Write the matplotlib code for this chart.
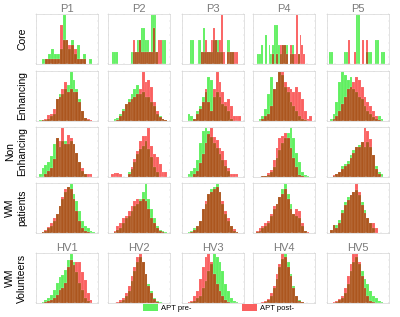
import numpy as np
import matplotlib
matplotlib.use("Agg")
import matplotlib.pyplot as plt
from matplotlib.patches import Patch

plt.rcParams["font.family"] = ["Liberation Sans", "DejaVu Sans"]

# ── data: bin heights (arbitrary units), one list per panel ────────────
row_labels = ["Core", "Enhancing", "Non\nEnhancing", "WM\npatients", "WM\nVolunteers"]
top_titles = ["P1", "P2", "P3", "P4", "P5"]
hv_titles = ["HV1", "HV2", "HV3", "HV4", "HV5"]

core_pre = [
    [0, 1, 1, 2, 3, 2, 2, 3, 10, 5, 3, 5, 2, 4, 1, 2, 0, 1, 0],
    [0, 1, 1, 1, 0, 0, 0, 0, 0, 0, 0, 1, 1, 1, 2, 2, 3, 3, 2, 2, 1, 4, 4, 4, 1, 0, 0, 2, 2, 0],
    [0, 0, 0, 2, 2, 0, 0, 2, 2, 1, 3, 1, 1, 1, 1, 2, 2, 2, 1, 1, 0, 0, 2, 2, 1, 1, 0, 0, 0, 0],
    [0, 1, 1, 2, 0, 3, 0, 2, 1, 2, 4, 4, 2, 1, 2, 2, 2, 0, 1, 2, 0, 0, 1, 0, 0, 0, 0, 0, 0, 0],
    [1, 1, 0, 0, 0, 0, 0, 0, 1, 1, 0, 0, 0, 0, 4, 4, 0, 0, 0, 1, 1, 1, 0, 0, 2, 2, 0, 1, 1, 0],
]
core_post = [
    [0, 0, 1, 1, 1, 1, 1, 8, 5, 5, 4, 4, 3, 1, 1, 1, 0, 0, 0],
    [0, 0, 0, 0, 0, 0, 0, 0, 0, 0, 0, 0, 2, 1, 1, 2, 1, 1, 1, 1, 1, 1, 3, 1, 1, 2, 2, 0, 0, 0],
    [0, 0, 0, 0, 0, 0, 0, 0, 0, 1, 1, 2, 1, 1, 2, 3, 2, 1, 2, 4, 1, 0, 1, 1, 1, 1, 1, 1, 0, 0],
    [0, 0, 0, 0, 0, 0, 0, 0, 0, 1, 0, 1, 0, 2, 2, 2, 1, 0, 2, 1, 1, 5, 1, 3, 2, 1, 0, 0, 0, 0],
    [0, 0, 0, 0, 0, 0, 0, 0, 0, 0, 2, 0, 0, 1, 0, 0, 0, 2, 0, 2, 0, 0, 0, 0, 0, 0, 0, 0, 0, 0],
]

enh_pre = [
    [0.3, 0.3, 0.3, 0.5, 1.0, 1.5, 4.5, 5.5, 5.5, 6.5, 7.5, 10, 8.5, 6.5, 4.5, 2, 0.7, 0.3, 0, 0],
    [0, 0.5, 0.7, 1.5, 2.5, 3.5, 4.5, 5.5, 6.5, 7.5, 5.5, 6, 5, 5, 4, 3, 1.5, 1, 0.5, 0.3],
    [0, 1.5, 1, 0.5, 2, 3, 5, 6, 9, 8.5, 5, 6, 5, 3.5, 3, 2, 0.5, 0, 0, 0],
    [0, 0.5, 1, 2.5, 5.5, 9, 6.5, 8, 10, 9.5, 7, 6, 4, 3, 2, 1, 0.5, 0.3, 0, 0],
    [0.5, 1.5, 4, 8, 10, 9.5, 8.5, 9, 6.5, 6, 5, 4.5, 3, 2, 1.5, 0.8, 0.5, 1, 0.5, 0],
]
enh_post = [
    [0, 0.3, 0.5, 1.2, 1.5, 2.5, 4.5, 5, 6.5, 8, 6, 6.5, 6, 6, 4, 2, 0.7, 0.5, 0.3, 0],
    [0, 0, 0.3, 1, 2, 3.5, 4, 4.5, 5, 5.5, 6.5, 10, 8, 8.5, 7, 4, 2, 0.8, 0.5, 0.3],
    [0, 0, 0, 0.5, 1.5, 2.5, 4, 6.5, 4, 2, 6.5, 10, 8, 6, 4, 4.5, 3, 1, 1, 1],
    [0, 0, 0.5, 1, 1.5, 3, 6.5, 8, 10, 10, 8, 7, 6.5, 6, 7, 6, 4.5, 2, 0.5, 1],
    [0, 0.5, 1, 2, 3.5, 5, 6.5, 7, 8, 9, 8.5, 7, 5, 4, 3, 2, 1, 0.3, 0, 0],
]

nenh_pre = [
    [0.5, 1.5, 2, 2.5, 3.5, 5.5, 6.5, 5, 6, 6, 5.5, 6, 5.5, 4, 2.5, 1, 0.5, 0, 0, 0],
    [0, 0, 0, 0, 0, 0, 1, 1.5, 3, 4.5, 5.5, 6, 7, 5.5, 4, 2, 1, 0, 0, 0],
    [0, 0.5, 1, 1.5, 3, 6, 8, 8.5, 8, 7, 6, 5, 4, 3, 2, 1, 0, 0, 0, 0],
    [0, 0, 0.2, 0.3, 0.5, 1, 2, 4, 5.5, 7, 8, 9, 10, 8, 5, 3, 1, 0.5, 0.2, 0],
    [0, 0.2, 0.5, 1, 2, 2.5, 3, 4, 5, 5.5, 6, 6.5, 5.5, 6.5, 5.5, 4, 2, 1, 0.5, 0],
]
nenh_post = [
    [0, 0, 0.5, 1, 1.5, 3, 6.5, 6, 8, 5.5, 7, 6.5, 5.5, 4, 2.5, 1.5, 0.5, 0.5, 0.5, 0],
    [0.5, 0.8, 0.8, 0.5, 0, 0, 0.5, 2, 3.5, 5, 7, 8, 8, 9.5, 6, 4.5, 4, 2.5, 1, 1],
    [0, 0, 0, 0.5, 1, 2.5, 4, 6, 7.5, 8.5, 7, 6.5, 5, 4.5, 3, 1.5, 0.5, 0.5, 0.5, 0],
    [0, 0, 0.2, 0.3, 0.8, 1.5, 3.5, 6, 8, 8.5, 9, 8, 6, 4, 2, 0.5, 0.2, 0, 0, 0],
    [0, 0.3, 0.5, 1, 1.5, 2, 2.5, 3.5, 4.5, 5.5, 5.5, 6.5, 9, 8.5, 7, 4, 1.5, 0.5, 0, 0],
]

wmp_pre = [
    [0, 0.2, 0.5, 1, 1.5, 2.5, 4, 5.5, 7, 8.5, 9.5, 10, 8, 6.5, 4.5, 2.5, 1.5, 1, 0.5, 0.2],
    [0, 0.3, 0.7, 1, 2, 3, 3.5, 4.5, 5.5, 6, 7, 8.5, 10, 7, 5, 3, 1.5, 0.7, 0.5, 0.3],
    [0, 0.2, 0.5, 1, 1.5, 2.5, 5, 6, 8, 9, 9.5, 10, 8.5, 6, 4, 2.5, 1.5, 0.5, 0.2, 0],
    [0.3, 0.5, 1, 1.5, 2, 3.5, 5, 6, 7.5, 9, 10, 8, 6, 4, 3.5, 3, 1.5, 0.5, 0, 0],
    [0.5, 1.5, 1.5, 2.5, 4.5, 6, 7, 7.5, 8, 8.5, 7.5, 6, 4.5, 3, 2, 1, 0, 0, 0, 0],
]
wmp_post = [
    [0, 0.3, 0.7, 1.2, 2, 3, 4, 5.5, 7.5, 9, 9.5, 9, 7, 4.5, 2.5, 1, 0.5, 0.3, 0, 0],
    [0, 0.5, 1.5, 2, 3, 3.5, 4.5, 5.5, 6.5, 7, 6.5, 7, 6.5, 5, 3, 2, 1, 0.5, 0.2, 0],
    [0, 0, 0.3, 0.7, 1.5, 2.5, 5, 6.5, 8, 8.5, 9, 9.5, 8.5, 6.5, 4.5, 3, 1.5, 0.8, 0.3, 0],
    [0.5, 1, 1.5, 2, 2.5, 4, 5.5, 6, 7.5, 8, 9, 7, 5, 4, 5, 4.5, 2, 0.5, 0.2, 0],
    [0.5, 1.5, 1, 2, 4, 5.5, 6.5, 7.5, 8, 9.5, 8, 5.5, 4, 3, 2, 2, 1, 0, 0, 0],
]

hv_pre = [
    [0, 0.2, 0.5, 1, 1.5, 2.5, 4, 5, 5.5, 6.5, 8.5, 9.5, 8, 6, 4, 2.5, 1, 0.3, 0, 0],
    [0, 0, 0.1, 0.3, 0.7, 1.5, 2.5, 4.5, 6.5, 8.5, 9.5, 8.5, 6, 4, 2.5, 1, 0.5, 0.2, 0, 0],
    [0, 0, 0.2, 0.5, 1, 1.5, 3, 4.5, 6.5, 8, 10, 9.5, 8.5, 6.5, 4, 2.5, 1, 0.5, 0.2, 0],
    [0, 0, 0.1, 0.3, 0.7, 1.5, 3, 5, 7.5, 9, 10, 8.5, 6, 3.5, 1.5, 0.7, 0.3, 0.1, 0, 0],
    [0, 0.1, 0.3, 0.6, 1, 2, 4, 6.5, 8.5, 9.5, 8, 6.5, 5, 4, 2.5, 1.5, 1, 0.5, 0.2, 0],
]
hv_post = [
    [0, 0, 0.2, 0.3, 0.5, 1, 1.5, 2.5, 3, 4, 7, 8.5, 7.5, 8, 8, 6, 4.5, 2, 0.5, 0],
    [0, 0.1, 0.3, 0.6, 1, 2, 3.5, 5.5, 7.5, 9.5, 10, 8.5, 6, 3.5, 2, 0.8, 0.3, 0.1, 0, 0],
    [0, 0.2, 0.5, 1.5, 2.5, 5, 7.5, 9.5, 10, 8.5, 6, 4, 2.5, 1.5, 0.7, 0.3, 0, 0, 0, 0],
    [0, 0.1, 0.2, 0.4, 0.8, 2, 3.5, 6, 8, 10, 9.5, 7.5, 5.5, 3, 1.5, 0.5, 0.2, 0, 0, 0],
    [0, 0.2, 0.4, 0.8, 1.5, 3, 5.5, 8, 10, 10, 8.5, 5.5, 3, 1.5, 0.5, 0.2, 0, 0, 0, 0],
]

rows_pre = [core_pre, enh_pre, nenh_pre, wmp_pre, hv_pre]
rows_post = [core_post, enh_post, nenh_post, wmp_post, hv_post]

# ── style ─────────────────────────────────────────────────────────────
GREEN = "#5ff05f"
RED = "#fa6060"
BROWN = "#ac561e"
EDGE = (1, 1, 1, 0.25)
W, H = 400, 317
col_left = [36, 108, 182, 253, 327]
row_top = [14, 71, 127, 183, 253]
ax_w, ax_h = 62, 50


def draw_panel(ax, pre, post):
    pre = np.asarray(pre, dtype=float)
    post = np.asarray(post, dtype=float)
    n = len(pre)
    edges = np.arange(n + 1)
    centers = edges[:-1] + 0.5
    for vals, col in ((pre, GREEN), (post, RED), (np.minimum(pre, post), BROWN)):
        ax.hist(centers, bins=edges, weights=vals, color=col, rwidth=1.0,
                edgecolor=EDGE, linewidth=0.3)
    ax.set_xlim(-1.0, n + 1.0)
    ax.set_ylim(0, max(pre.max(), post.max()) * 1.03)
    ax.set_xticks(np.linspace(-1.0, n + 1.0, 9))
    ax.set_yticks(np.linspace(0, ax.get_ylim()[1], 8))
    ax.set_xticklabels([""] * 9)
    ax.set_yticklabels([""] * 8)
    ax.tick_params(which="both", length=1, width=0.3, color="#c8c8c8",
                   top=True, right=True, direction="in")
    for sp in ax.spines.values():
        sp.set_color("#d6d6d6")
        sp.set_linewidth(0.5)


fig = plt.figure(figsize=(W / 100, H / 100), dpi=100)

for r in range(5):
    for c in range(5):
        left = col_left[c] / W
        bottom = 1 - (row_top[r] + ax_h) / H
        ax = fig.add_axes([left, bottom, ax_w / W, ax_h / H])
        draw_panel(ax, rows_pre[r][c], rows_post[r][c])
        if r == 0:
            ax.set_title(top_titles[c], fontsize=8, color="#7a7a7a", pad=1.5)
        if r == 4:
            ax.set_title(hv_titles[c], fontsize=8, color="#7a7a7a", pad=1.5)
    yc = 1 - (row_top[r] + ax_h / 2) / H
    fig.text(27 / W, yc, row_labels[r], rotation=90, ha="right", va="center",
             multialignment="center", fontsize=7.5)

handles = [Patch(facecolor=GREEN, edgecolor="none", label="APT pre-"),
           Patch(facecolor=RED, edgecolor="none", label="APT post-")]
fig.legend(handles=handles, loc="center left", bbox_to_anchor=(143 / W, 1 - 308 / H),
           ncol=2, frameon=False, fontsize=5.5, handlelength=2.0, handleheight=1.1,
           columnspacing=6.6, handletextpad=0.4, borderaxespad=0, borderpad=0)

fig.savefig("out.png", dpi=100)
